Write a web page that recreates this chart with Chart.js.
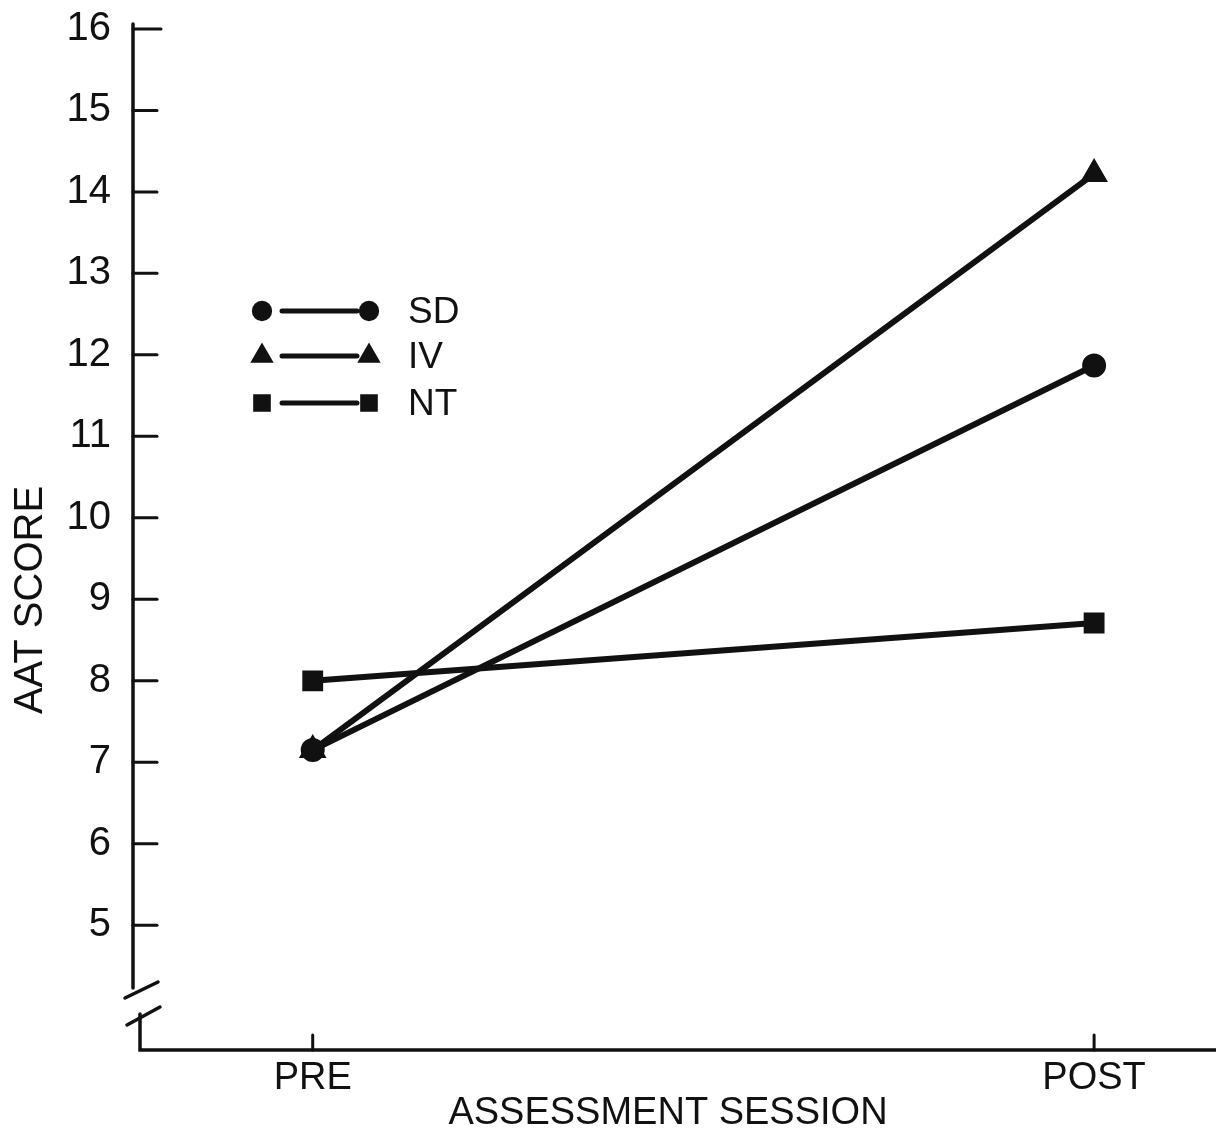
<!DOCTYPE html>
<html>
<head>
<meta charset="utf-8">
<script src="https://cdn.jsdelivr.net/npm/chart.js@4"></script>
<style>
  html, body { margin: 0; padding: 0; background: #fff; }
  #wrap { width: 1216px; height: 1140px; }
</style>
</head>
<body>
<div id="wrap"><canvas id="aatChart" width="1216" height="1140"></canvas></div>
<script>
// données
const sessions = ['PRE', 'POST'];
const sessionPos = [0, 1];
const sdScores = [7.15, 11.87];
const ivScores = [7.15, 14.22];
const ntScores = [8.0, 8.71];
const yTickValues = [5, 6, 7, 8, 9, 10, 11, 12, 13, 14, 15, 16];
const groupNames = ['SD', 'IV', 'NT'];

const FONT = '"Liberation Sans", Arial, sans-serif';
const INK = '#111';

const toPoints = (vals) => vals.map((v, i) => ({ x: sessionPos[i], y: v }));

// axes à la main : traits, coupure, graduations vers l'intérieur, titres, légende
const paperAxes = {
  id: 'paperAxes',
  afterDatasetsDraw(chart) {
    const { ctx, chartArea, scales } = chart;
    const xs = scales.x, ys = scales.y;
    const ax = chartArea.left;
    const by = chartArea.bottom;
    ctx.save();
    ctx.strokeStyle = INK;
    ctx.lineCap = 'round';
    ctx.lineWidth = 3.5;

    // axe y, avec coupure
    ctx.beginPath();
    ctx.moveTo(ax, chartArea.top);
    ctx.lineTo(ax, 988);
    ctx.moveTo(ax + 7, 1014);
    ctx.lineTo(ax + 7, by);
    ctx.lineTo(chartArea.right, by);
    ctx.stroke();

    ctx.beginPath();
    ctx.moveTo(ax - 8, 998);
    ctx.lineTo(ax + 25, 982);
    ctx.moveTo(ax - 6, 1025);
    ctx.lineTo(ax + 27, 1007);
    ctx.stroke();

    // graduations y
    ctx.lineWidth = 3;
    yTickValues.forEach((v) => {
      const py = ys.getPixelForValue(v);
      ctx.beginPath();
      ctx.moveTo(ax, py);
      ctx.lineTo(ax + (v === 16 ? 28 : 24), py);
      ctx.stroke();
    });
    // graduations x
    sessionPos.forEach((v) => {
      const px = xs.getPixelForValue(v);
      ctx.beginPath();
      ctx.moveTo(px, by);
      ctx.lineTo(px, by - 15);
      ctx.stroke();
    });

    // titres
    ctx.fillStyle = INK;
    ctx.font = '38px ' + FONT;
    ctx.textAlign = 'center';
    ctx.textBaseline = 'middle';
    ctx.fillText('ASSESSMENT SESSION', 668, 1114);
    ctx.save();
    ctx.translate(31, 600);
    ctx.rotate(-Math.PI / 2);
    ctx.font = '40px ' + FONT;
    ctx.fillText('AAT SCORE', 0, 0);
    ctx.restore();

    // légende
    const rows = [311, 356, 403];
    chart.data.datasets.forEach((ds, i) => {
      const y = rows[i];
      ctx.lineWidth = 5;
      ctx.beginPath();
      ctx.moveTo(282, y);
      ctx.lineTo(357, y);
      ctx.stroke();
      const opts = { pointStyle: ds.pointStyle, radius: ds.pointRadius * 0.85, rotation: 0, borderWidth: 1 };
      ctx.fillStyle = INK;
      Chart.helpers.drawPoint(ctx, opts, 262, y);
      Chart.helpers.drawPoint(ctx, opts, 369, y);
      ctx.fillStyle = INK;
      ctx.font = '37px ' + FONT;
      ctx.textAlign = 'left';
      ctx.fillText(groupNames[i], 408, y + 2);
    });
    ctx.restore();
  }
};

const baseSet = {
  borderColor: INK,
  backgroundColor: INK,
  pointBackgroundColor: INK,
  pointBorderColor: INK,
  borderWidth: 6,
  borderCapStyle: 'round',
  tension: 0,
  fill: false,
};

new Chart(document.getElementById('aatChart').getContext('2d'), {
  type: 'line',
  data: {
    datasets: [
      { ...baseSet, label: 'SD', data: toPoints(sdScores), pointStyle: 'circle', pointRadius: 9 },
      { ...baseSet, label: 'IV', data: toPoints(ivScores), pointStyle: 'triangle', pointRadius: 10 },
      { ...baseSet, label: 'NT', data: toPoints(ntScores), pointStyle: 'rect', pointRadius: 10.5 },
    ],
  },
  options: {
    responsive: false,
    animation: false,
    devicePixelRatio: 1,
    layout: { autoPadding: false, padding: { top: 24, right: 0, left: 0, bottom: 0 } },
    plugins: {
      legend: { display: false },
      tooltip: { enabled: false },
    },
    scales: {
      x: {
        type: 'linear',
        min: -0.23,
        max: 1.156,
        afterFit: (s) => { s.height = 90; s.paddingLeft = 0; s.paddingRight = 0; },
        afterBuildTicks: (s) => { s.ticks = sessionPos.map((v) => ({ value: v })); },
        border: { display: false },
        grid: { display: false, drawTicks: false },
        ticks: {
          padding: 6,
          color: INK,
          font: { family: FONT, size: 38 },
          callback: (v) => sessions[sessionPos.indexOf(v)] ?? '',
        },
      },
      y: {
        min: 3.47,
        max: 16.06,
        afterFit: (s) => { s.width = 133; s.paddingTop = 0; s.paddingBottom = 0; },
        afterBuildTicks: (s) => { s.ticks = yTickValues.map((v) => ({ value: v })); },
        border: { display: false },
        grid: { display: false, drawTicks: false },
        ticks: {
          padding: 22,
          color: INK,
          font: { family: FONT, size: 40 },
        },
      },
    },
  },
  plugins: [paperAxes],
});
</script>
</body>
</html>
